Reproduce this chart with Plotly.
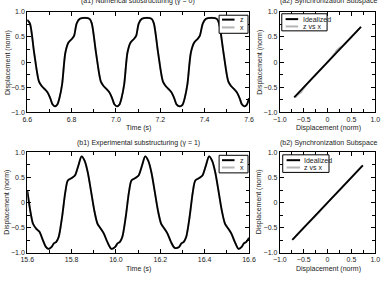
import plotly.graph_objects as go

# ---------------- data ----------------
t_a1 = [6.600, 6.612, 6.631, 6.653, 6.666, 6.679, 6.691, 6.704, 6.714, 6.725,
        6.735, 6.745, 6.757, 6.772, 6.786, 6.801, 6.811, 6.823, 6.837, 6.860,
        6.881, 6.891, 6.910, 6.932, 6.945, 6.958, 6.970, 6.983, 6.993, 7.005,
        7.015, 7.025, 7.037, 7.052, 7.066, 7.081, 7.091, 7.103, 7.117, 7.140,
        7.161, 7.171, 7.190, 7.212, 7.225, 7.238, 7.250, 7.263, 7.273, 7.288,
        7.300, 7.310, 7.322, 7.338, 7.353, 7.368, 7.378, 7.392, 7.406, 7.432,
        7.455, 7.465, 7.485, 7.507, 7.520, 7.533, 7.545, 7.558, 7.568, 7.580,
        7.590, 7.600]
z_a1 = [0.84, 0.77, 0.19, -0.39, -0.48, -0.54, -0.60, -0.72, -0.84, -0.88,
        -0.85, -0.72, -0.45, 0.19, 0.39, 0.46, 0.52, 0.77, 0.86, 0.88,
        0.86, 0.77, 0.19, -0.39, -0.48, -0.54, -0.60, -0.72, -0.84, -0.88,
        -0.85, -0.72, -0.45, 0.19, 0.39, 0.46, 0.52, 0.77, 0.86, 0.88,
        0.86, 0.77, 0.19, -0.39, -0.48, -0.54, -0.60, -0.72, -0.84, -0.88,
        -0.85, -0.72, -0.45, 0.19, 0.39, 0.46, 0.52, 0.77, 0.86, 0.88,
        0.86, 0.77, 0.19, -0.39, -0.48, -0.54, -0.60, -0.72, -0.84, -0.88,
        -0.85, -0.72]
x_a1 = list(z_a1)

t_b1 = [15.600, 15.614, 15.626, 15.641, 15.655, 15.670, 15.684, 15.696, 15.710, 15.720,
        15.731, 15.742, 15.757, 15.772, 15.783, 15.801, 15.815, 15.830, 15.845, 15.859,
        15.873, 15.888, 15.903, 15.917, 15.932, 15.946, 15.961, 15.980, 15.997, 16.007,
        16.018, 16.029, 16.044, 16.059, 16.070, 16.088, 16.102, 16.117, 16.132, 16.146,
        16.160, 16.175, 16.190, 16.204, 16.219, 16.233, 16.248, 16.265, 16.285, 16.295,
        16.306, 16.317, 16.332, 16.347, 16.358, 16.376, 16.390, 16.405, 16.420, 16.434,
        16.448, 16.463, 16.478, 16.492, 16.507, 16.521, 16.536, 16.553, 16.567, 16.577,
        16.588, 16.600]
z_b1 = [0.25, -0.17, -0.42, -0.52, -0.58, -0.74, -0.88, -0.92, -0.88, -0.81,
        -0.78, -0.68, -0.29, 0.22, 0.44, 0.49, 0.54, 0.73, 0.92, 0.83,
        0.60, 0.22, -0.17, -0.42, -0.52, -0.62, -0.78, -0.92, -0.88, -0.81,
        -0.78, -0.68, -0.29, 0.22, 0.44, 0.49, 0.54, 0.73, 0.92, 0.83,
        0.60, 0.22, -0.17, -0.42, -0.52, -0.62, -0.78, -0.90, -0.88, -0.81,
        -0.78, -0.68, -0.29, 0.22, 0.44, 0.49, 0.54, 0.73, 0.92, 0.83,
        0.60, 0.22, -0.17, -0.42, -0.52, -0.62, -0.78, -0.92, -0.88, -0.81,
        -0.78, -0.70]
x_b1 = list(z_b1)

ideal_a2 = [-0.70, 0.70]
zx_a2_x = [-0.68, -0.60, -0.55, -0.50, -0.30, 0.00, 0.15, 0.20, 0.25, 0.30, 0.50, 0.70]
zx_a2_y = [-0.70, -0.63, -0.59, -0.52, -0.30, 0.00, 0.17, 0.24, 0.28, 0.31, 0.50, 0.70]
ideal_b2 = [-0.74, 0.74]
zx_b2_x = [-0.72, -0.50, -0.20, 0.00, 0.20, 0.50, 0.73]
zx_b2_y = [-0.73, -0.50, -0.21, 0.00, 0.20, 0.50, 0.74]

y_ticks = [-1.0, -0.5, 0.0, 0.5, 1.0]
y_ticktext = ["\u22121.0", "\u22120.5", "0", "0.5", "1.0"]
t_ticks_a = [6.6, 6.8, 7.0, 7.2, 7.4, 7.6]
t_ticks_b = [15.6, 15.8, 16.0, 16.2, 16.4, 16.6]

# ---------------- layout helpers ----------------
W, H = 390, 294
def px(x):
    return x / W
def py(y):
    return 1 - y / H

FONT = "Liberation Sans, Arial, sans-serif"
BLACK = "#000000"
GRAY = "#b4b4b4"
TXT = "#222222"

fig = go.Figure()

# time-series panels
fig.add_trace(go.Scatter(x=t_a1, y=x_a1, mode="lines", line=dict(color=GRAY, width=2, shape="spline", smoothing=0.8),
                         xaxis="x", yaxis="y", showlegend=False))
fig.add_trace(go.Scatter(x=t_a1, y=z_a1, mode="lines", line=dict(color=BLACK, width=1.8, shape="spline", smoothing=0.8),
                         xaxis="x", yaxis="y", showlegend=False))
fig.add_trace(go.Scatter(x=t_b1, y=x_b1, mode="lines", line=dict(color=GRAY, width=2, shape="spline", smoothing=0.8),
                         xaxis="x3", yaxis="y3", showlegend=False))
fig.add_trace(go.Scatter(x=t_b1, y=z_b1, mode="lines", line=dict(color=BLACK, width=1.8, shape="spline", smoothing=0.8),
                         xaxis="x3", yaxis="y3", showlegend=False))
# synchronization subspace panels
fig.add_trace(go.Scatter(x=zx_a2_x, y=zx_a2_y, mode="lines", line=dict(color=GRAY, width=2, shape="spline"),
                         xaxis="x2", yaxis="y2", showlegend=False))
fig.add_trace(go.Scatter(x=ideal_a2, y=ideal_a2, mode="lines", line=dict(color=BLACK, width=1.8),
                         xaxis="x2", yaxis="y2", showlegend=False))
fig.add_trace(go.Scatter(x=zx_b2_x, y=zx_b2_y, mode="lines", line=dict(color=GRAY, width=2, shape="spline"),
                         xaxis="x4", yaxis="y4", showlegend=False))
fig.add_trace(go.Scatter(x=ideal_b2, y=ideal_b2, mode="lines", line=dict(color=BLACK, width=1.8),
                         xaxis="x4", yaxis="y4", showlegend=False))

def ax(domain, anchor, rng, tickvals, ticktext, minor_dtick):
    return dict(domain=domain, anchor=anchor, range=rng, tickmode="array",
                tickvals=tickvals, ticktext=ticktext, showline=True, linecolor=BLACK,
                linewidth=1, mirror="ticks", ticks="inside", ticklen=4, tickcolor=BLACK,
                showgrid=False, zeroline=False,
                tickfont=dict(family=FONT, size=7, color=TXT),
                minor=dict(ticks="inside", ticklen=3, tickcolor=BLACK, dtick=minor_dtick, showgrid=False))

xd_l = [px(21), px(251)]
xd_r = [px(283), px(382)]
yd_t = [py(111), py(8)]
yd_b = [py(255), py(152)]

fig.update_layout(
    width=W, height=H, margin=dict(l=0, r=0, t=0, b=0),
    paper_bgcolor="white", plot_bgcolor="white", showlegend=False,
    xaxis=ax(xd_l, "y", [6.6, 7.6], t_ticks_a, [f"{v:.1f}" for v in t_ticks_a], 0.1),
    yaxis=ax(yd_t, "x", [-1, 1], y_ticks, y_ticktext, 0.25),
    xaxis2=ax(xd_r, "y2", [-1, 1], y_ticks, y_ticktext, 0.25),
    yaxis2=ax(yd_t, "x2", [-1, 1], y_ticks, y_ticktext, 0.25),
    xaxis3=ax(xd_l, "y3", [15.6, 16.6], t_ticks_b, [f"{v:.1f}" for v in t_ticks_b], 0.1),
    yaxis3=ax(yd_b, "x3", [-1, 1], y_ticks, y_ticktext, 0.25),
    xaxis4=ax(xd_r, "y4", [-1, 1], y_ticks, y_ticktext, 0.25),
    yaxis4=ax(yd_b, "x4", [-1, 1], y_ticks, y_ticktext, 0.25),
)

anns = []
def text(x, y, s, angle=0, xanchor="center"):
    anns.append(dict(x=px(x), y=py(y), xref="paper", yref="paper", text=s, showarrow=False,
                     textangle=angle, xanchor=xanchor, yanchor="middle",
                     font=dict(family=FONT, size=7, color=TXT)))

# titles
text(136, -3.5, "(a1) Numerical substructuring (\u03b3 = 0)")
text(333, -3.5, "(a2) Synchronization Subspace")
text(136, 142, "(b1) Experimental substructuring (\u03b3 = 1)")
text(333, 142, "(b2) Synchronization Subspace")
# axis titles
text(136, 127, "Time (s)")
text(136, 271, "Time (s)")
text(333, 127, "Displacement (norm)")
text(333, 271, "Displacement (norm)")
text(0.5, 60, "Displacement (norm)", angle=-90)
text(0.5, 203, "Displacement (norm)", angle=-90)
text(261.5, 60, "Displacement (norm)", angle=-90)
text(261.5, 203, "Displacement (norm)", angle=-90)

shapes = []
def legend(x0, y0, x1, y1, lx0, lx1, tx, rows):
    shapes.append(dict(type="rect", xref="paper", yref="paper", x0=px(x0), x1=px(x1), y0=py(y0), y1=py(y1),
                       line=dict(color=BLACK, width=1), fillcolor="white", layer="above"))
    for (yy, color, label) in rows:
        shapes.append(dict(type="line", xref="paper", yref="paper", x0=px(lx0), x1=px(lx1), y0=py(yy), y1=py(yy),
                           line=dict(color=color, width=2), layer="above"))
        text(tx, yy, label, xanchor="left")

legend(220, 11.5, 250, 30, 223, 236, 239.5, [(16, BLACK, "z"), (24, GRAY, "x")])
legend(220, 155, 250, 173, 223, 236, 239.5, [(160, BLACK, "z"), (167.5, GRAY, "x")])
legend(285, 10, 332, 27.5, 289, 302, 305, [(15.5, BLACK, "Idealized"), (23, GRAY, "z vs x")])
legend(286, 154.5, 334, 172.5, 290, 304, 306.5, [(160, BLACK, "Idealized"), (167.5, GRAY, "z vs x")])

fig.update_layout(annotations=anns, shapes=shapes)
fig.write_html("out.html")
